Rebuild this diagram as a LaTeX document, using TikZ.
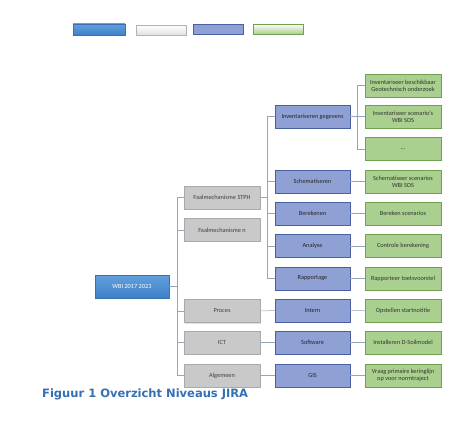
\documentclass[tikz,border=0pt]{standalone}
\usepackage{fontspec}
\setmainfont{Carlito}
\newfontfamily\capfont{DejaVu Sans}
\usepackage{tikz}
\usetikzlibrary{shadows}
\definecolor{topblue}{RGB}{98,160,220}
\definecolor{botblue}{RGB}{62,128,200}
\definecolor{bordblue}{RGB}{58,112,178}
\definecolor{fillgray}{RGB}{201,201,201}
\definecolor{bordgray}{RGB}{170,170,170}
\definecolor{fillpurple}{RGB}{143,160,212}
\definecolor{bordpurple}{RGB}{72,96,160}
\definecolor{fillgreen}{RGB}{169,208,142}
\definecolor{bordgreen}{RGB}{112,160,80}
\definecolor{linkcol}{RGB}{150,165,190}
\definecolor{capblue}{RGB}{52,112,180}

\tikzset{
    box/.style = {minimum height=23pt, inner sep=1pt, align=center,
        font=\fontsize{6.3}{7.3}\selectfont,
        drop shadow={opacity=0.25, shadow xshift=1pt, shadow yshift=-1pt}},
    lvlzero/.style = {box, minimum width=74pt, draw=bordblue, top color=topblue,
        bottom color=botblue, text=white},
    lvlone/.style = {box, minimum width=76pt, draw=bordgray, fill=fillgray, text=black!75},
    lvltwo/.style = {box, minimum width=75pt, draw=bordpurple, fill=fillpurple, text=black!85},
    lvlthree/.style = {box, minimum width=76pt, draw=bordgreen, fill=fillgreen, text=black!80},
    link/.style = {draw=linkcol, line width=0.5pt},
}

\begin{document}
\begin{tikzpicture}[x=1pt, y=-1pt]
    \useasboundingbox (0,0) rectangle (473,427);

    % legenda
    \node[lvlzero, minimum width=52pt, minimum height=11pt] (legzero) at (99,29.5) {};
    \node[lvlone, minimum width=50pt, minimum height=10pt, draw=black!30,
        top color=white, bottom color=black!12] (legone) at (161,30) {};
    \node[lvltwo, minimum width=50pt, minimum height=10pt] (legtwo) at (218,29) {};
    \node[lvlthree, minimum width=50pt, minimum height=10pt,
        top color=white, bottom color=fillgreen] (legthree) at (278,29) {};

    \node[lvlzero] (wbi) at (132,286.5) {WBI 2017 2023};

    \node[lvlone] (stph) at (222,197.5) {Faalmechanisme STPH};
    \node[lvlone] (fmn) at (222,230) {Faalmechanisme n};
    \node[lvlone] (proces) at (222,311) {Proces};
    \node[lvlone] (ict) at (222,342.5) {ICT};
    \node[lvlone] (alg) at (222,375.5) {Algemeen};

    \node[lvltwo] (inv) at (312.5,116.5) {Inventariseren gegevens};
    \node[lvltwo] (schem) at (312.5,181.5) {Schematiseren};
    \node[lvltwo] (ber) at (312.5,213.5) {Berekenen};
    \node[lvltwo] (ana) at (312.5,246) {Analyse};
    \node[lvltwo] (rap) at (312.5,278.5) {Rapportage};
    \node[lvltwo] (intern) at (312.5,310.5) {Intern};
    \node[lvltwo] (soft) at (312.5,342.5) {Software};
    \node[lvltwo] (gis) at (312.5,375.5) {GIS};

    \node[lvlthree] (geo) at (403,85.5) {Inventariseer beschikbaar\\Geotechnisch onderzoek};
    \node[lvlthree] (scen) at (403,116.5) {Inventariseer scenario's\\WBI SOS};
    \node[lvlthree] (more) at (403,149) {...};
    \node[lvlthree] (schsc) at (403,181.5) {Schematiseer scenarios\\WBI SOS};
    \node[lvlthree] (bersc) at (403,213.5) {Bereken scenarios};
    \node[lvlthree] (contr) at (403,246) {Controle berekening};
    \node[lvlthree] (toets) at (403,278.5) {Rapporteer toetsvoorstel};
    \node[lvlthree] (start) at (403,310.5) {Opstellen startnotitie};
    \node[lvlthree] (dsoil) at (403,342.5) {Installeren D-Soilmodel};
    \node[lvlthree] (prim) at (403,375.5) {Vraag primaire keringlijn\\op voor normtraject};

    \node[font=\capfont\bfseries\fontsize{11.5}{13}\selectfont, text=capblue,
        anchor=west, inner sep=0pt] (cap) at (42,394) {Figuur 1 Overzicht Niveaus JIRA};

    \foreach \kid in {stph, fmn, proces, ict, alg}
        \draw[link] (wbi.east) -- ++(8,0) |- (\kid.west);
    \foreach \kid in {inv, schem, ber, ana, rap}
        \draw[link] (stph.east) -- ++(7,0) |- (\kid.west);
    \foreach \kid in {geo, scen, more}
        \draw[link] (inv.east) -- ++(7,0) |- (\kid.west);
    \draw[link] (schem) -- (schsc);
    \draw[link] (ber) -- (bersc);
    \draw[link] (ana) -- (contr);
    \draw[link] (rap) -- (toets);
    \draw[link] (proces) -- (intern) -- (start);
    \draw[link] (ict) -- (soft) -- (dsoil);
    \draw[link] (alg) -- (gis) -- (prim);
\end{tikzpicture}
\end{document}
